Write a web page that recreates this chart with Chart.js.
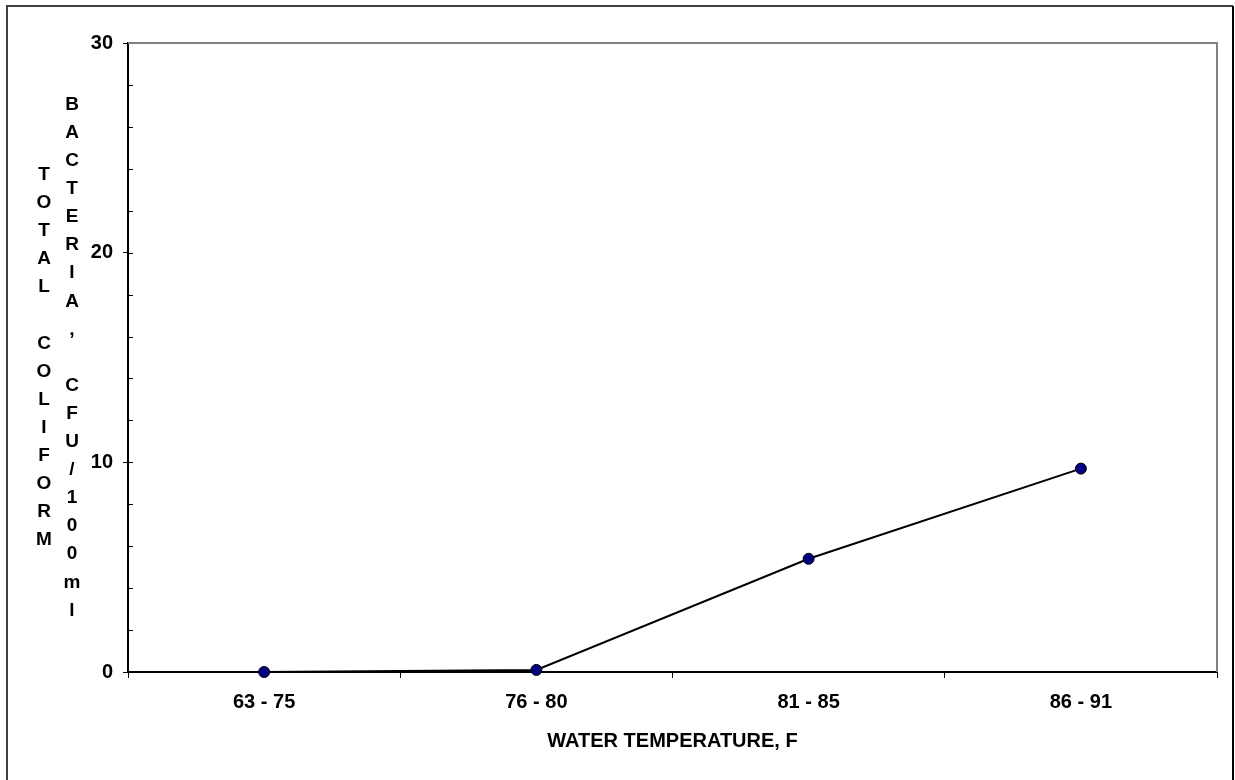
<!DOCTYPE html>
<html>
<head>
<meta charset="utf-8">
<title>Total coliform bacteria vs water temperature</title>
<script src="https://cdn.jsdelivr.net/npm/chart.js@4.4.1/dist/chart.umd.min.js"></script>
<style>
    html, body { margin: 0; padding: 0; background: #fff; }
    #chart-coliform { display: block; }
</style>
</head>
<body>
<canvas id="chart-coliform" width="1235" height="780"></canvas>
<script>
var categories = ['63 - 75', '76 - 80', '81 - 85', '86 - 91'];
var coliform = [0, 0.1, 5.4, 9.7];
var yTicks = [0, 10, 20, 30];
var yMinorStep = 2;
var xTitle = 'WATER TEMPERATURE, F';
var yTitleColumns = ['TOTAL COLIFORM', 'BACTERIA, CFU/100ml'];

var FONT = "'Liberation Sans', Arial, sans-serif";

/* Frame, plot border, minor ticks and the stacked y title */
var excelLook = {
    id: 'excelLook',
    afterDraw: function(chart) {
        var ctx = chart.ctx;
        var area = chart.chartArea;
        var y = chart.scales.y;

        ctx.save();
        // outer chart frame
        ctx.lineWidth = 2;
        ctx.strokeStyle = '#404040';
        ctx.beginPath();
        ctx.moveTo(7, 800);
        ctx.lineTo(7, 6);
        ctx.lineTo(1233, 6);
        ctx.stroke();
        ctx.strokeStyle = '#000';
        ctx.beginPath();
        ctx.moveTo(1233, 6);
        ctx.lineTo(1233, 800);
        ctx.stroke();

        // grey plot area border (top and right)
        ctx.strokeStyle = '#808080';
        ctx.beginPath();
        ctx.moveTo(area.left, area.top);
        ctx.lineTo(area.right, area.top);
        ctx.lineTo(area.right, area.bottom);
        ctx.stroke();

        // inner tick marks on the y axis
        ctx.strokeStyle = '#000';
        ctx.lineWidth = 1;
        for (var v = yTicks[0] + yMinorStep; v < yTicks[yTicks.length - 1]; v += yMinorStep) {
            var py = Math.round(y.getPixelForValue(v)) + 0.5;
            ctx.beginPath();
            ctx.moveTo(area.left, py);
            ctx.lineTo(area.left + 5, py);
            ctx.stroke();
        }

        // y title, one letter per line, two columns
        ctx.fillStyle = '#000';
        ctx.font = 'bold 19px ' + FONT;
        ctx.textAlign = 'center';
        ctx.textBaseline = 'middle';
        var mid = (area.top + area.bottom) / 2;
        var colX = [area.left - 84, area.left - 56];
        var lineH = 28.1;
        yTitleColumns.forEach(function(text, c) {
            var n = text.length;
            for (var i = 0; i < n; i++) {
                ctx.fillText(text[i], colX[c], mid + (i - (n - 1) / 2) * lineH);
            }
        });
        ctx.restore();
    }
};

function show_chart_coliform() {
    var ctx = document.getElementById('chart-coliform');
    var myChart = new Chart(ctx, {
        type: 'line',
        data: {
            labels: categories,
            datasets: [{
                label: 'Total coliform',
                data: coliform,
                fill: false,
                tension: 0,
                borderColor: '#000',
                borderWidth: 2,
                pointRadius: 5.5,
                pointBackgroundColor: '#000080',
                pointBorderColor: '#000',
                pointBorderWidth: 1,
                clip: false
            }]
        },
        options: {
            responsive: false,
            animation: false,
            devicePixelRatio: 1,
            layout: {
                padding: { left: 0, top: 43, right: 18, bottom: 0 }
            },
            plugins: {
                legend: { display: false },
                tooltip: { enabled: false }
            },
            scales: {
                x: {
                    offset: true,
                    grid: {
                        offset: true,
                        drawOnChartArea: false,
                        drawTicks: true,
                        tickLength: 6,
                        color: '#000',
                        lineWidth: 1
                    },
                    border: { color: '#000', width: 2 },
                    ticks: {
                        color: '#000',
                        padding: 12,
                        maxRotation: 0,
                        font: { family: FONT, size: 20, weight: 'bold' }
                    },
                    title: {
                        display: true,
                        text: xTitle,
                        color: '#000',
                        padding: { top: 0, bottom: 27 },
                        font: { family: FONT, size: 20, weight: 'bold' }
                    },
                    afterFit: function(scale) { scale.height = 108; }
                },
                y: {
                    min: yTicks[0],
                    max: yTicks[yTicks.length - 1],
                    grid: {
                        drawOnChartArea: false,
                        drawTicks: true,
                        tickLength: 5,
                        color: '#000',
                        lineWidth: 1
                    },
                    border: { color: '#000', width: 2 },
                    ticks: {
                        stepSize: yTicks[1] - yTicks[0],
                        color: '#000',
                        padding: 10,
                        font: { family: FONT, size: 20, weight: 'bold' }
                    },
                    afterFit: function(scale) { scale.width = 128; }
                }
            }
        },
        plugins: [excelLook]
    });
}

document.addEventListener('DOMContentLoaded', function() {
    show_chart_coliform();
});
</script>
</body>
</html>
